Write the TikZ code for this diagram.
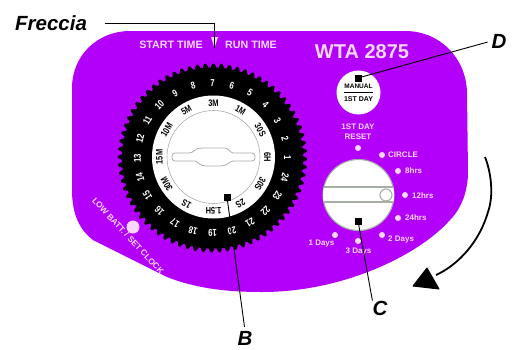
\documentclass[tikz,border=0pt]{standalone}
\usepackage{fontspec}
\setmainfont{Liberation Sans}
\definecolor{body}{RGB}{178,0,250}
\definecolor{pale}{RGB}{250,215,255}
\definecolor{knobline}{RGB}{165,175,165}
\newcommand{\narrowtxt}[1]{\scalebox{0.78}[1]{#1}}
\tikzset{
  x=1pt,y=-1pt,
  callout/.style={font=\bfseries\itshape\fontsize{20.5}{22}\selectfont,inner sep=0pt},
  tag/.style={fill=black,minimum size=7pt,inner sep=0pt},
  lead/.style={black,line width=0.9pt},
  paletext/.style={pale,font=\bfseries\fontsize{8}{9}\selectfont,inner sep=0pt},
  toptext/.style={pale,font=\bfseries\fontsize{10.7}{11}\selectfont,inner sep=0pt},
  dot/.style={circle,fill=pale,minimum size=6pt,inner sep=0pt},
  ringnum/.style={white,font=\bfseries\fontsize{10}{10}\selectfont,inner sep=0pt},
  ringlab/.style={black,font=\bfseries\fontsize{9.5}{10}\selectfont,inner sep=0pt},
  knob/.style={draw=knobline,line width=1.1pt},
}
\begin{document}
\begin{tikzpicture}
\useasboundingbox (0,0) rectangle (512,349);
% body
\fill[body] (130,31) -- (405,31)
  .. controls (440,31) and (466,58) .. (467,92)
  -- (468,172)
  .. controls (468,190) and (462,208) .. (450,220)
  .. controls (420,254) and (345,292) .. (262,292)
  .. controls (225,292) and (195,288) .. (167,277)
  -- (93,240)
  .. controls (80,230) and (72,215) .. (72,190)
  -- (72,88)
  .. controls (72,55) and (98,31) .. (130,31) -- cycle;
% top labels
\node[toptext] (start) at (171,45) {START TIME};
\node[toptext] (run) at (251,45) {RUN TIME};
\coordinate (tip) at (214.5,48);
\fill[pale] (211,37) -- (218,37) -- (tip) -- cycle;
\node[pale,font=\bfseries\fontsize{20}{21}\selectfont,inner sep=0pt] (model) at (362,52) {WTA 2875};
% geared dial
\fill[black] ({212.5+94.5},158)
  \foreach \a in {0,5,...,355}{
    -- ({212.5+94.5*cos(\a)},{158+94.5*sin(\a)})
    -- ({212.5+94.5*cos(\a+1.2)},{158+94.5*sin(\a+1.2)})
    -- ({212.5+90.5*cos(\a+2.5)},{158+90.5*sin(\a+2.5)})
    -- ({212.5+90.5*cos(\a+3.8)},{158+90.5*sin(\a+3.8)})
  } -- cycle;
\foreach \k in {1,...,24}{
  \pgfmathsetmacro{\ang}{(\k-1)*15}
  \node[ringnum,rotate=\ang-90] (n\k) at ({212.5+75*cos(\ang)},{158-75*sin(\ang)}) {\narrowtxt{\k}};
}
% white ring
\fill[white] (213.5,157) circle (61.5);
\draw[knobline,line width=0.6pt,fill=white] (213.5,157) circle (46.5);
\foreach \ang/\t in {90/3M,60/1M,30/30S,0/6H,-30/30S,-60/2S,-90/1.5H,-120/1S,-150/30M,180/15M,150/10M,120/5M}{
  \node[ringlab,rotate=\ang-90] at ({213.5+54*cos(\ang)},{157-54*sin(\ang)}) {\narrowtxt{\t}};
}
% grip of the dial
\draw[knobline,line width=0.8pt,fill=white,rounded corners=3pt]
  (172,153) -- (192,153) .. controls (197,148) and (200,148) .. (206,148) -- (222,148)
  .. controls (228,148) and (231,153) .. (236,153) -- (255,153) -- (255,161) -- (236,161)
  .. controls (230,161) and (227,166) .. (218,166) -- (208,166)
  .. controls (200,166) and (197,161) .. (192,161) -- (172,161) -- cycle;
% LED
\node[circle,fill=pale,minimum size=13pt,inner sep=0pt] (led) at (133,227) {};
\node[paletext,rotate=-47,font=\bfseries\fontsize{8.4}{9}\selectfont] (low) at (128,236) {LOW BATT. / SET CLOCK};
% manual button
\node[circle,fill=white,minimum size=44pt,inner sep=0pt] (btn) at (358.5,92.5) {};
\draw[black,line width=0.8pt] (344,92) -- (373,92);
\node[black,inner sep=0pt,font=\bfseries\fontsize{6.5}{7}\selectfont] (manual) at (358.5,86) {MANUAL};
\node[black,inner sep=0pt,font=\bfseries\fontsize{7}{8}\selectfont] (first) at (358.5,99) {1ST DAY};
% right knob labels
\node[paletext,align=center,font=\bfseries\fontsize{8}{10}\selectfont] (reset) at (358,132) {1ST DAY\\RESET};
\node[dot] (d0) at (358,148) {};
\node[dot] (d1) at (382,155) {};
\node[dot] (d2) at (398,171) {};
\node[dot] (d3) at (405,195) {};
\node[dot] (d4) at (398,218) {};
\node[dot] (d5) at (382,235) {};
\node[dot] (d6) at (358,241) {};
\node[dot] (d7) at (335,235) {};
\node[paletext,anchor=west] (l1) at (388,155) {CIRCLE};
\node[paletext,anchor=west] (l2) at (405,171) {8hrs};
\node[paletext,anchor=west] (l3) at (412,195.5) {12hrs};
\node[paletext,anchor=west] (l4) at (405,218) {24hrs};
\node[paletext,anchor=west] (l5) at (388,240) {2 Days};
\node[paletext] (l6) at (358.5,252) {3 Days};
\node[paletext] (l7) at (321.5,244) {1 Days};
% right knob
\draw[knob,fill=white] (358.5,195) circle (35.5);
\begin{scope}
\clip (358.5,195) circle (35.5);
\draw[knob,fill=white] (320,187) rectangle (400,202);
\end{scope}
\draw[knob] (386,195) circle (6);
% curved arrow
\draw[black,line width=1.8pt] (485,157) .. controls (491,172) and (494,195) .. (488,212)
  .. controls (480,240) and (460,264) .. (436,275);
\fill[black,draw=black,line width=1pt,line join=round] (427,268) -- (439,289) -- (413,286) -- cycle;
% callouts
\node[callout,anchor=west] (freccia) at (15,23) {Freccia};
\coordinate (fstart) at (105,23);
\draw[lead] (fstart) -| (tip);
\node[callout] (D) at (499,41) {D};
\node[tag] (sqD) at (358,78) {};
\draw[lead,shorten >=4pt] (sqD.center) -- (D.west);
\node[tag] (sqB) at (227,197) {};
\node[callout] (B) at (245,338) {B};
\draw[lead,shorten >=4pt] (sqB.center) -- (B.north);
\node[tag] (sqC) at (358,221) {};
\node[callout] (C) at (380,308) {C};
\draw[lead] (sqC.center) -- (C.north west);
\end{tikzpicture}
\end{document}
